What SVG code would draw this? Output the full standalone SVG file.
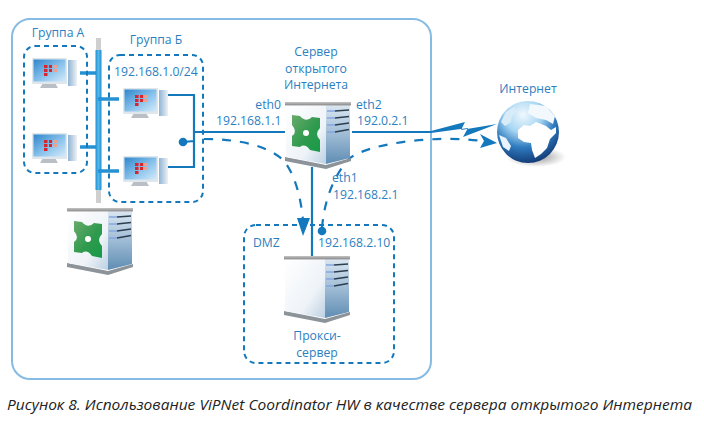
<svg xmlns="http://www.w3.org/2000/svg" xmlns:xlink="http://www.w3.org/1999/xlink" width="704" height="424" viewBox="0 0 704 424">
<style>
text{font-family:"Open Sans","Noto Sans","Liberation Sans",sans-serif;font-size:12.2px;fill:#2b7fc1}
.m{text-anchor:middle}
.e{text-anchor:end}
.cap{font-size:14.8px;font-style:italic;fill:#222}
.zone{fill:none;stroke:#1478bd;stroke-width:2;stroke-dasharray:5 4}
.wire{fill:none;stroke:#1478bd;stroke-width:2.2}
.tick{fill:none;stroke:#2391d2;stroke-width:3.4}
.flow{fill:none;stroke:#1478bd;stroke-width:2.2;stroke-dasharray:9 9}
.ah{fill:#1478bd}
</style>
<defs>
<linearGradient id="front" x1="0" y1="0" x2="1" y2="1"><stop offset="0" stop-color="#fff"/><stop offset=".65" stop-color="#eef3f8"/><stop offset="1" stop-color="#bcd0e2"/></linearGradient>
<linearGradient id="side" x1="0" y1="0" x2="0" y2="1"><stop offset="0" stop-color="#dbe7f1"/><stop offset=".45" stop-color="#a5c0d8"/><stop offset="1" stop-color="#5f8db3"/></linearGradient>
<linearGradient id="bar" x1="0" y1="0" x2="0" y2="1"><stop offset="0" stop-color="#c4c4c4"/><stop offset="1" stop-color="#888"/></linearGradient>
<linearGradient id="xg" x1="0" y1="0" x2="1" y2="1"><stop offset="0" stop-color="#69aa6b"/><stop offset=".55" stop-color="#2f9a4e"/><stop offset="1" stop-color="#169a48"/></linearGradient>
<linearGradient id="scr" x1="0" y1="0" x2="1" y2="1"><stop offset="0" stop-color="#2f86cc"/><stop offset=".55" stop-color="#8ac3ec"/><stop offset="1" stop-color="#d4eafa"/></linearGradient>
<linearGradient id="twr" x1="0" y1="0" x2="1" y2="0"><stop offset="0" stop-color="#8fb4d6"/><stop offset=".6" stop-color="#c8d8e6"/><stop offset="1" stop-color="#eef2f6"/></linearGradient>
<linearGradient id="bus" x1="0" y1="0" x2="1" y2="0"><stop offset="0" stop-color="#1f8fd2"/><stop offset=".5" stop-color="#56b6ea"/><stop offset="1" stop-color="#1f8fd2"/></linearGradient>
<radialGradient id="glb" cx=".42" cy=".22" r=".85"><stop offset="0" stop-color="#f0f8fd"/><stop offset=".35" stop-color="#a6d5f2"/><stop offset=".62" stop-color="#2f7cc0"/><stop offset="1" stop-color="#0d2c66"/></radialGradient>
<radialGradient id="shd"><stop offset="0" stop-color="#444" stop-opacity=".6"/><stop offset="1" stop-color="#555" stop-opacity="0"/></radialGradient>
<g id="box">
<polygon points="0,55 41,63 66,56 66,59 41,67 0,59" fill="#8d9499"/>
<polygon points="1,3 41,3 41,62 1,55" fill="url(#front)"/>
<polygon points="41,3 65,3 65,56 41,62" fill="url(#side)"/>
<rect x="0" y="0" width="66" height="3.4" fill="url(#bar)"/>
<g fill="none" stroke-width="1.6"><path d="M50 9L64 8M50 16L64 14.5M50 23L64 21M50 30L64 27.5" stroke="#2c3e4f"/><path d="M42 9H50M42 16H50M42 23H50M42 30H50" stroke="#86a6df"/></g>
</g>
<g id="srv">
<use xlink:href="#box"/>
<path d="M7 13L15 14Q21 21 27 15L35 16L35 26Q29 32 35 38L35 50L25 48Q20 41 15 45L7 44L7 34Q13 30 7 23Z" fill="url(#xg)"/>
<circle cx="21" cy="31" r="3" fill="#fff"/>
</g>
<g id="pc">
<polygon points="11,25 23,25 26,30 8,30" fill="#b9bfc4"/>
<rect x="0" y="0" width="35" height="26" rx="1" fill="#dfe6ec"/>
<rect x="1.500" y="1.500" width="32" height="22" fill="url(#scr)"/>
<polygon points="36,2 45,2 45,28 36,28" fill="url(#twr)"/>
<path d="M12 7h3.500v3h-3.500zM12 11h3.500v3h-3.500zM12 15h3.500v3h-3.500zM17 7h3v3h-3zM17 11h3v3h-3z" fill="#d8242c"/>
<path d="M21 7h4v3h-4zM21 11h4v3h-4z" fill="#f0a08c"/>
</g>
</defs>
<rect width="704" height="424" fill="#fff"/>
<rect id="frame" x="12" y="19" width="419" height="360" rx="18" fill="none" stroke="#86bbe4" stroke-width="2"/>

<g id="connectors">
<rect x="96" y="38" width="5" height="12" fill="#cfcfcf"/>
<rect x="96" y="190" width="5" height="13" fill="#cfcfcf"/>
<rect x="95.500" y="50" width="6" height="140" fill="url(#bus)"/>
<path class="tick" d="M80 73H96M80 147H96M98 99H119M98 171H119"/>
<path class="wire" d="M168 95H194V167H168M183 142L194 141M194 132H285M352 132H431M312 167V256"/>
<circle cx="183" cy="142" r="4.300" fill="#1478bd"/>
<path class="flow" d="M204 139C240 139 268 146 283 160C296 175 301 200 303 220"/>
<polygon class="ah" points="303,236 297,218 310,218"/>
<circle cx="322" cy="231" r="4.300" fill="#1478bd"/>
<path class="flow" d="M322 228C324 205 331 178 350 158C372 142 440 135 482 141"/>
<polygon class="ah" points="497,143 480,148 484,141 480,134"/>
<polygon class="ah" points="431,131 465,122 461,130 497,124 463,137 468,128 431,133"/>
</g>

<g id="group-a">
<rect class="zone" x="24" y="46" width="63" height="127" rx="11"/>
<text class="m" x="58" y="37">Группа А</text>
</g>
<g id="group-b">
<rect class="zone" x="109" y="55" width="94" height="147" rx="11"/>
<text class="m" x="156" y="44">Группа Б</text>
<text x="114" y="76">192.168.1.0/24</text>
</g>
<g id="pc-a1"><use xlink:href="#pc" x="32" y="58"/></g>
<g id="pc-a2"><use xlink:href="#pc" x="32" y="133"/></g>
<g id="pc-b1"><use xlink:href="#pc" x="123" y="88"/></g>
<g id="pc-b2"><use xlink:href="#pc" x="123" y="156"/></g>
<g id="coordinator"><use xlink:href="#srv" x="67" y="208"/></g>
<g id="open-internet-server">
<use xlink:href="#srv" x="285" y="102"/>
<text class="m" x="316" y="56">Сервер</text>
<text class="m" x="316" y="73">открытого</text>
<text class="m" x="316" y="89">Интернета</text>
<text class="e" x="281" y="109">eth0</text>
<text x="216" y="125">192.168.1.1</text>
<text x="356" y="109">eth2</text>
<text x="357" y="125">192.0.2.1</text>
<text x="332" y="182">eth1</text>
<text x="333" y="199">192.168.2.1</text>
</g>
<g id="dmz">
<rect class="zone" x="244" y="225" width="150" height="138" rx="12"/>
<text x="253" y="247">DMZ</text>
<text x="318" y="247">192.168.2.10</text>
</g>
<g id="proxy">
<use xlink:href="#box" x="284" y="256"/>
<text class="m" x="317" y="340">Прокси-</text>
<text class="m" x="317" y="357">сервер</text>
</g>
<g id="internet">
<ellipse cx="536" cy="157" rx="30" ry="10" fill="url(#shd)"/>
<circle cx="528" cy="132" r="31" fill="url(#glb)"/>
<path d="M518 130L524 125L530 126L536 122L546 126L551 130L556 127L556 133L550 139L547 148L541 154L535 158L532 150L531 143L524 142L518 138Z" fill="#fff"/>
<path d="M530 104L546 106L555 116L553 124L546 120L536 118L528 113Z" fill="#f2f8fc"/>
<path d="M501 122L506 112L514 107L518 112L512 116L511 122L505 126Z" fill="#d7ebf8"/>
<path d="M499 135L506 138L511 146L509 151L503 147Z" fill="#e8f3fb"/>
<text class="m" x="528" y="93">Интернет</text>
</g>
<text class="cap" x="7" y="410" textLength="685" lengthAdjust="spacingAndGlyphs">Рисунок 8. Использование ViPNet Coordinator HW в качестве сервера открытого Интернета</text>
</svg>
